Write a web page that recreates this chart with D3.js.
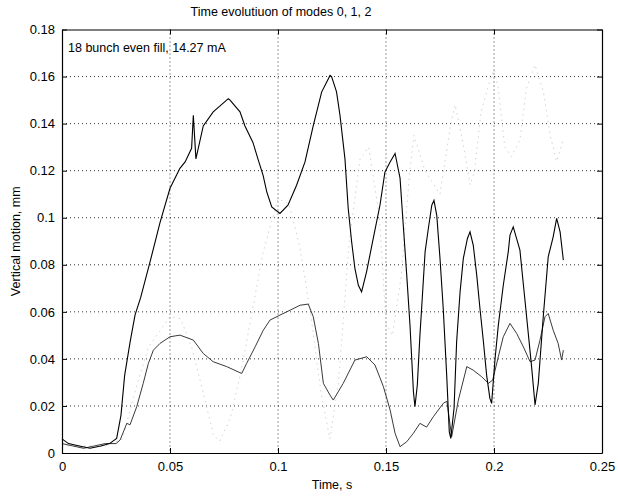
<!DOCTYPE html>
<html lang="en">
<head>
  <meta charset="UTF-8">
  <title>Time evolution of modes 0, 1, 2</title>
  <script src="https://d3js.org/d3.v7.min.js"></script>
  <style>
    body {
      margin: 0;
      background: #fff;
      font-family: "Liberation Sans", Arial, sans-serif;
    }
    .grid line {
      stroke: #000;
      stroke-dasharray: 1,3;
      stroke-width: 0.8;
    }
  </style>
</head>
<body>
  <div id="chart"></div>

  <script>
    // time (s), vertical motion (mm)
    const mode0 = [
      [0, .006], [.003, .004], [.008, .003], [.013, .002], [.018, .003], [.022, .004],
      [.0253, .0062], [.0273, .016], [.029, .033], [.0315, .047], [.0338, .0586], [.0364, .066],
      [.0407, .081], [.0454, .098], [.050, .1125], [.0546, .121], [.057, .1237], [.060, .1295],
      [.0608, .1435], [.062, .125], [.0654, .139], [.070, .145], [.077, .1506], [.0778, .150],
      [.0824, .145], [.0847, .139], [.0884, .132], [.0907, .125], [.0931, .118], [.0948, .111],
      [.0971, .1046], [.1009, .1018], [.1046, .1053], [.1086, .1138], [.1125, .1237], [.1163, .139],
      [.1202, .1534], [.1241, .1605], [.1248, .160], [.1271, .1535], [.1287, .1435], [.131, .125],
      [.1325, .104], [.1341, .0897], [.1356, .0785], [.1372, .0713], [.1387, .0685], [.141, .077],
      [.1441, .0912], [.1472, .1053], [.1495, .1194], [.1519, .1237], [.1542, .1273], [.1565, .1168],
      [.158, .0968], [.1596, .0756], [.1611, .0544], [.1627, .026], [.1634, .0197], [.1645, .0289],
      [.1657, .050], [.1665, .0615], [.1681, .0855], [.1696, .0954], [.1712, .1053], [.1722, .1074],
      [.1735, .101], [.175, .0827], [.1765, .0614], [.1781, .033], [.1793, .009], [.180, .0062],
      [.1815, .019], [.1827, .0473], [.1843, .0685], [.1858, .0827], [.1877, .0912], [.1889, .094],
      [.1904, .0883], [.192, .0756], [.1935, .0614], [.1951, .0473], [.1966, .033], [.1981, .0232],
      [.1989, .0211], [.2005, .0402], [.202, .0543], [.2043, .0713], [.2066, .0855], [.2074, .0926],
      [.2089, .0961], [.212, .0862], [.2151, .0579], [.2174, .0367], [.219, .0204], [.2205, .0296],
      [.2228, .0579], [.2251, .0834], [.2274, .0919], [.229, .0997], [.2306, .094], [.2321, .082]
    ];

    const mode1 = [
      [0, .004], [.005, .003], [.010, .002], [.015, .003], [.020, .004], [.025, .004],
      [.0269, .0055], [.030, .0126], [.0315, .012], [.0346, .0197], [.0376, .0296], [.040, .0381],
      [.0423, .0437], [.0454, .0466], [.050, .0494], [.0546, .0501], [.0608, .048], [.0654, .0423],
      [.070, .0388], [.0763, .0367], [.0832, .0338], [.0855, .0381], [.0894, .0451], [.0932, .0522],
      [.0963, .0565], [.1009, .0586], [.1056, .0607], [.1102, .0628], [.114, .0633], [.1163, .058],
      [.1187, .0466], [.121, .0296], [.1241, .0246], [.1256, .0225], [.1302, .0296], [.1356, .0395],
      [.1411, .0409], [.1449, .0374], [.1488, .0282], [.1519, .0183], [.1542, .0084], [.1565, .0027],
      [.1596, .0048], [.1627, .0084], [.1657, .0126], [.1688, .011], [.1719, .0154], [.1765, .0211],
      [.1782, .022], [.1804, .0069], [.1835, .0225], [.1874, .0367], [.1904, .0352], [.1943, .0324],
      [.1974, .0296], [.1994, .031], [.202, .0409], [.2043, .0494], [.2074, .0551], [.2105, .0508],
      [.2136, .0451], [.2167, .0388], [.219, .0395], [.2213, .048], [.2236, .0579], [.2251, .0593],
      [.2274, .0522], [.2297, .0466], [.2313, .0395], [.2321, .0437]
    ];

    const mode2 = [
      [0, .003], [.02, .003], [.028, .006], [.035, .03], [.040, .045], [.050, .058], [.055, .057],
      [.060, .045], [.065, .027], [.070, .008], [.073, .005], [.078, .015], [.083, .035],
      [.088, .060], [.093, .085], [.100, .108], [.105, .106], [.110, .088], [.115, .060],
      [.120, .025], [.124, .006], [.128, .030], [.133, .090], [.138, .125], [.142, .130],
      [.147, .100], [.150, .055], [.153, .050], [.157, .075], [.161, .120], [.163, .135],
      [.168, .120], [.175, .110], [.180, .140], [.182, .148], [.186, .130], [.189, .114],
      [.191, .120], [.194, .145], [.198, .158], [.200, .163], [.202, .155], [.205, .130],
      [.208, .126], [.212, .133], [.215, .155], [.219, .165], [.223, .153], [.226, .135],
      [.229, .124], [.232, .133]
    ];

    const xTicks = [0, 0.05, 0.1, 0.15, 0.2, 0.25];
    const yTicks = [0, 0.02, 0.04, 0.06, 0.08, 0.1, 0.12, 0.14, 0.16, 0.18];

    const width = 618, height = 496;
    const margin = { top: 29.5, right: 16, bottom: 43, left: 62 };
    const iw = width - margin.left - margin.right;
    const ih = height - margin.top - margin.bottom;

    const svg = d3.select("#chart").append("svg")
      .attr("width", width)
      .attr("height", height);

    const g = svg.append("g")
      .attr("transform", `translate(${margin.left},${margin.top})`);

    const x = d3.scaleLinear().domain([0, 0.25]).range([0, iw]);
    const y = d3.scaleLinear().domain([0, 0.18]).range([ih, 0]);

    // dotted grid
    g.append("g").attr("class", "grid")
      .selectAll("line").data(xTicks.slice(1, -1)).enter().append("line")
      .attr("x1", d => x(d)).attr("x2", d => x(d))
      .attr("y1", 0).attr("y2", ih);
    g.append("g").attr("class", "grid")
      .selectAll("line").data(yTicks.slice(1, -1)).enter().append("line")
      .attr("x1", 0).attr("x2", iw)
      .attr("y1", d => y(d)).attr("y2", d => y(d));

    const line = d3.line().x(d => x(d[0])).y(d => y(d[1]));

    // mode 2 is very faint in the original, almost broken dots
    g.append("path").datum(mode2)
      .attr("fill", "none")
      .attr("stroke", "#c6c6c6")
      .attr("stroke-width", 0.8)
      .attr("stroke-dasharray", "1.5,4")
      .attr("d", line);

    g.append("path").datum(mode1)
      .attr("fill", "none")
      .attr("stroke", "#3a3a3a")
      .attr("stroke-width", 1)
      .attr("d", line);

    g.append("path").datum(mode0)
      .attr("fill", "none")
      .attr("stroke", "#000")
      .attr("stroke-width", 1.1)
      .attr("d", line);

    // axes, ticks inward, matlab-style box
    const fmt = d => d === 0 ? "0" : String(d);
    g.append("g").attr("transform", `translate(0,${ih})`)
      .call(d3.axisBottom(x).tickValues(xTicks).tickFormat(fmt).tickSizeInner(-5).tickSizeOuter(0).tickPadding(9));
    g.append("g")
      .call(d3.axisLeft(y).tickValues(yTicks).tickFormat(fmt).tickSizeInner(-5).tickSizeOuter(0).tickPadding(7));
    g.append("g")
      .call(d3.axisTop(x).tickValues(xTicks).tickFormat("").tickSizeInner(-5).tickSizeOuter(0));
    g.append("g").attr("transform", `translate(${iw},0)`)
      .call(d3.axisRight(y).tickValues(yTicks).tickFormat("").tickSizeInner(-5).tickSizeOuter(0));

    svg.selectAll(".domain").attr("stroke", "#000").attr("stroke-width", 1.2);
    svg.selectAll(".tick line").attr("stroke", "#000");
    svg.selectAll(".tick text")
      .style("font-family", "'Liberation Sans', Arial, sans-serif")
      .style("font-size", "13px")
      .attr("fill", "#000");

    // titles
    svg.append("text")
      .attr("x", 281).attr("y", 16)
      .attr("text-anchor", "middle")
      .style("font-size", "12.5px")
      .text("Time evolutiuon of modes 0, 1, 2");

    g.append("text")
      .attr("x", 6).attr("y", 22)
      .style("font-size", "12.5px")
      .text("18 bunch even fill, 14.27 mA");

    svg.append("text")
      .attr("x", margin.left + iw / 2).attr("y", 489)
      .attr("text-anchor", "middle")
      .style("font-size", "12.5px")
      .text("Time, s");

    svg.append("text")
      .attr("transform", `translate(20,${margin.top + ih / 2}) rotate(-90)`)
      .attr("text-anchor", "middle")
      .style("font-size", "12.5px")
      .text("Vertical motion, mm");
  </script>
</body>
</html>
